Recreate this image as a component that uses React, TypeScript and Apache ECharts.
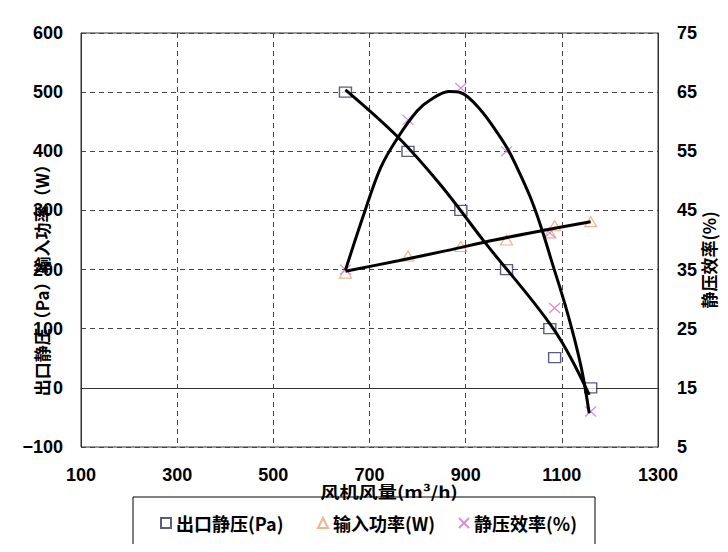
import React, { useEffect, useRef } from "react";
import * as echarts from "echarts";

// Measured points (x = airflow m³/h)
const airflow = [650, 780, 890, 985, 1075, 1085, 1160];
const staticPressure = [500, 400, 300, 200, 100, 51, 0]; // Pa
const inputPower = [194, 223, 239, 250, 262, 274, 281]; // W
const staticEfficiency = [35, 60.3, 65.7, 55, 41.2, 28.5, 11]; // %

// Trend curves
const pressureTrendX = [650, 758, 848, 938, 1084, 1157];
const pressureTrendY = [504, 425, 343, 248, 98, -12];
const powerTrendX = [650, 760, 860, 960, 1060, 1160];
const powerTrendY = [197, 215, 232, 250, 266, 281];
const efficiencyTrendX = [650, 688, 723, 758, 799, 827, 865, 890, 931, 966, 990, 1015, 1039, 1060, 1077, 1112, 1140, 1157];
const efficiencyTrendY = [34.9, 44.3, 52.2, 57.2, 61.8, 63.7, 65.1, 64.9, 62.0, 58.1, 55.0, 50.8, 46.3, 41.4, 36.9, 27.6, 18.6, 10.7];

const seriesNames = ["出口静压(Pa)", "输入功率(W)", "静压效率(%)"];
const xAxisTitle = "风机风量(m³/h)";
const leftAxisTitle = "出口静压（Pa）输入功率（W）";
const rightAxisTitle = "静压效率(%)";

const NUM_FONT = "'Liberation Sans', Arial, sans-serif";
const CJK_FONT = "'Noto Sans CJK SC', 'Noto Sans', sans-serif";

const zip = (xs: number[], ys: number[]) => xs.map((x, i) => [x, ys[i]]);

const CROSS = "path://M0,0L10,10M10,0L0,10";

export default function App() {
  const ref = useRef<HTMLDivElement>(null);
  useEffect(() => {
    if (!ref.current) return;
    const chart = echarts.init(ref.current, null, { renderer: "svg" });
    const axisLabel = {
      color: "#000",
      fontSize: 18,
      fontWeight: "bold" as const,
      fontFamily: NUM_FONT,
    };
    const dashed = { show: true, lineStyle: { color: "#444", type: [5, 4] as any, width: 1 } };
    const legendCommon = {
      top: 509,
      itemWidth: 10,
      itemHeight: 10,
      itemGap: 0,
      textStyle: { color: "#000", fontSize: 18, fontWeight: "bold" as const, fontFamily: CJK_FONT },
    };
    const trend = (name: string, axis: number, xs: number[], ys: number[]) => ({
      name,
      type: "line",
      yAxisIndex: axis,
      smooth: 0.35,
      showSymbol: false,
      symbol: "none",
      lineStyle: { color: "#000", width: 3 },
      data: zip(xs, ys),
      z: 3,
      silent: true,
    });
    chart.setOption({
      animation: false,
      backgroundColor: "#fff",
      grid: {
        left: 81,
        right: 70,
        top: 33,
        bottom: 105,
        show: true,
        borderColor: "#333",
        borderWidth: 1,
        containLabel: false,
        outerBoundsMode: "none",
      },
      xAxis: {
        type: "value",
        min: 100,
        max: 1300,
        interval: 200,
        axisLine: { show: true, onZero: true, onZeroAxisIndex: 0, lineStyle: { color: "#333", width: 1 } },
        axisTick: { show: false },
        axisLabel: { ...axisLabel, margin: 19, formatter: (v: number) => String(v) },
        splitLine: dashed,
      },
      yAxis: [
        {
          type: "value",
          min: -100,
          max: 600,
          interval: 100,
          axisLine: { show: true, lineStyle: { color: "#333" } },
          axisTick: { show: false },
          axisLabel: {
            ...axisLabel,
            margin: 18,
            formatter: (v: number) => (v < 0 ? "\u2212" + Math.abs(v) : String(v)),
          },
          splitLine: dashed,
        },
        {
          type: "value",
          min: 5,
          max: 75,
          interval: 10,
          position: "right",
          axisLine: { show: true, lineStyle: { color: "#333" } },
          axisTick: { show: false },
          axisLabel: { ...axisLabel, margin: 19, formatter: (v: number) => String(v) },
          splitLine: { show: false },
        },
      ],
      legend: [
        { ...legendCommon, left: 155, data: [seriesNames[0]] },
        { ...legendCommon, left: 312, data: [seriesNames[1]] },
        { ...legendCommon, left: 453, data: [seriesNames[2]] },
      ],
      graphic: [
        {
          type: "rect",
          shape: { x: 133, y: 497, width: 462, height: 70 },
          style: { fill: "none", stroke: "#000", lineWidth: 1 },
          silent: true,
        },
        {
          type: "text",
          x: 389,
          y: 491,
          scaleX: 1.2,
          style: {
            text: xAxisTitle,
            fontSize: 16,
            fontWeight: "bold",
            fontFamily: CJK_FONT,
            fill: "#000",
            align: "center",
            verticalAlign: "middle",
          },
        },
        {
          type: "text",
          x: 41,
          y: 276,
          rotation: Math.PI / 2,
          style: {
            text: leftAxisTitle,
            fontSize: 17,
            fontWeight: "bold",
            fontFamily: CJK_FONT,
            fill: "#000",
            align: "center",
            verticalAlign: "middle",
          },
        },
        {
          type: "text",
          x: 708,
          y: 260,
          rotation: Math.PI / 2,
          style: {
            text: rightAxisTitle,
            fontSize: 17,
            fontWeight: "bold",
            fontFamily: CJK_FONT,
            fill: "#000",
            align: "center",
            verticalAlign: "middle",
          },
        },
      ],
      series: [
        {
          name: seriesNames[0],
          type: "scatter",
          yAxisIndex: 0,
          symbol: "rect",
          symbolSize: [12, 10],
          itemStyle: { color: "#fff", borderColor: "#333366", borderWidth: 1.3 },
          data: zip(airflow, staticPressure),
          z: 2,
        },
        {
          name: seriesNames[1],
          type: "scatter",
          yAxisIndex: 0,
          symbol: "triangle",
          symbolSize: [12, 10],
          itemStyle: { color: "rgba(255,255,255,0)", borderColor: "#f0a070", borderWidth: 1.2 },
          data: zip(airflow, inputPower),
          z: 2,
        },
        {
          name: seriesNames[2],
          type: "scatter",
          yAxisIndex: 1,
          symbol: CROSS,
          symbolSize: [11, 10],
          itemStyle: { color: "rgba(255,255,255,0)", borderColor: "#d070d0", borderWidth: 1.2 },
          data: zip(airflow, staticEfficiency),
          z: 2,
        },
        trend("pressureTrend", 0, pressureTrendX, pressureTrendY),
        trend("powerTrend", 0, powerTrendX, powerTrendY),
        trend("efficiencyTrend", 1, efficiencyTrendX, efficiencyTrendY),
      ],
    });
    return () => chart.dispose();
  }, []);
  return <div ref={ref} style={{ width: 728, height: 552, margin: -8 }} />;
}
